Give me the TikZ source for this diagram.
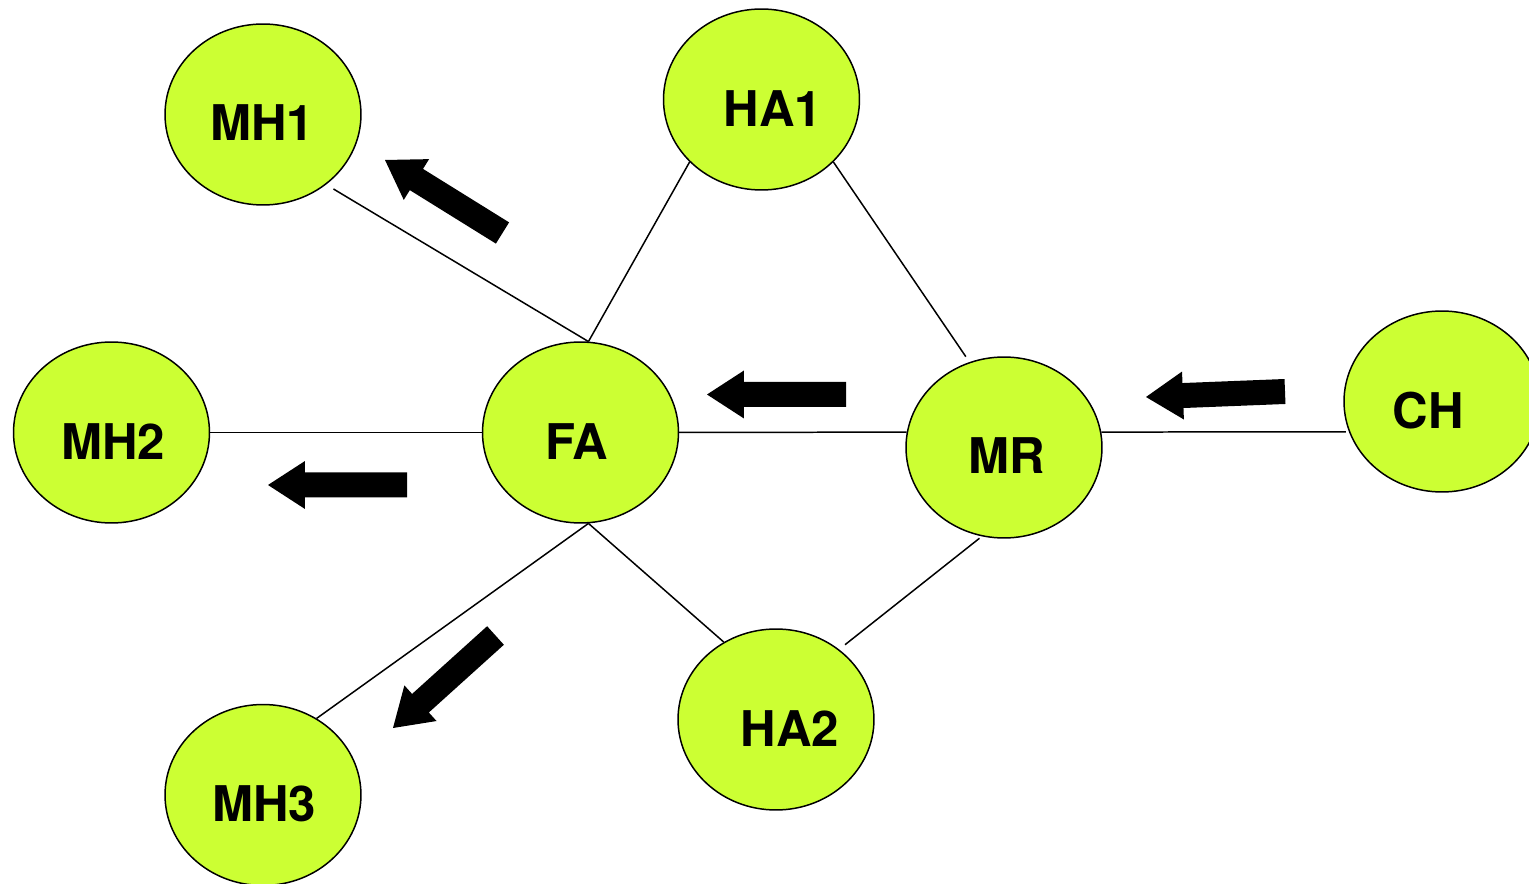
\documentclass[tikz,border=0pt]{standalone}
\usepackage{fontspec}
\setmainfont{TeX Gyre Heros}
\usetikzlibrary{calc,shapes.geometric}
\definecolor{nodefill}{RGB}{204,255,51}
\tikzset{
  agent/.style={ellipse, draw=black, line width=0.85pt, fill=nodefill,
    minimum width=3.92cm, minimum height=3.62cm, inner sep=0pt},
  lbl/.style={font=\fontsize{28}{29}\selectfont\bfseries, inner sep=0pt, text=black},
  link/.style={draw=black, line width=0.85pt},
  flow/.style={fill=black}
}
\newcommand\blockarrow[3]{%
  \coordinate (#3h) at ($(#2)!0.74cm!(#1)$);
  \fill[flow] ($(#1)!0.25cm!90:(#2)$) -- ($(#3h)!0.25cm!90:(#2)$)
    -- ($(#3h)!0.48cm!90:(#2)$) -- (#2) -- ($(#3h)!0.48cm!-90:(#2)$)
    -- ($(#3h)!0.25cm!-90:(#2)$) -- ($(#1)!0.25cm!-90:(#2)$) -- cycle;}
\begin{document}
\begin{tikzpicture}[x=0.02cm, y=-0.02cm]
\useasboundingbox (0,0) rectangle (1529,884);
% ellipses
\node[agent] (MH1) at (263,114.5) {};
\node[agent] (HA1) at (761.5,99.5) {};
\node[agent] (MH2) at (111.5,432.5) {};
\node[agent] (FA)  at (580.5,432.5) {};
\node[agent] (MR)  at (1004,447.5) {};
\node[agent] (CH)  at (1442,401.5) {};
\node[agent] (HA2) at (776,719.5) {};
\node[agent] (MH3) at (263,795) {};
% labels
\node[lbl] (tMH1) at (262,123) {MH1};
\node[lbl] (tHA1) at (773,109) {HA1};
\node[lbl] (tMH2) at (113,442) {MH2};
\node[lbl] (tFA)  at (577,442) {FA};
\node[lbl] (tMR)  at (1007,456) {MR};
\node[lbl] (tCH)  at (1428,411) {CH};
\node[lbl] (tHA2) at (790,729) {HA2};
\node[lbl] (tMH3) at (264,804) {MH3};
% connectors
\draw[link, shorten <=0.17cm] (MH1.-48) -- (FA.85.3);
\draw[link] (HA1.221.5) -- (FA.85.3);
\draw[link, shorten >=0.13cm] (HA1.-41) -- (MR.112.8);
\draw[link] (MH2.east) -- (FA.west);
\draw[link] (FA.east) -- (MR.171);
\draw[link, shorten >=0.06cm] (MR.9) -- (CH.198);
\draw[link] (FA.-85.3) -- (MH3.55.5);
\draw[link] (FA.-85.3) -- (HA2.124.9);
\draw[link, shorten <=0.06cm, shorten >=0.15cm] (MR.-104.3) -- (HA2.48);
% flow arrows
\coordinate (a1t) at (502.5,233);  \coordinate (a1p) at (385,160);
\coordinate (a2t) at (846,394.5);  \coordinate (a2p) at (707,394.5);
\coordinate (a3t) at (407,485);    \coordinate (a3p) at (268,485);
\coordinate (a4t) at (1285,391.5); \coordinate (a4p) at (1146,397);
\coordinate (a5t) at (495.5,635.5);\coordinate (a5p) at (393,728);
\blockarrow{a1t}{a1p}{a1}
\blockarrow{a2t}{a2p}{a2}
\blockarrow{a3t}{a3p}{a3}
\blockarrow{a4t}{a4p}{a4}
\blockarrow{a5t}{a5p}{a5}
\end{tikzpicture}
\end{document}
